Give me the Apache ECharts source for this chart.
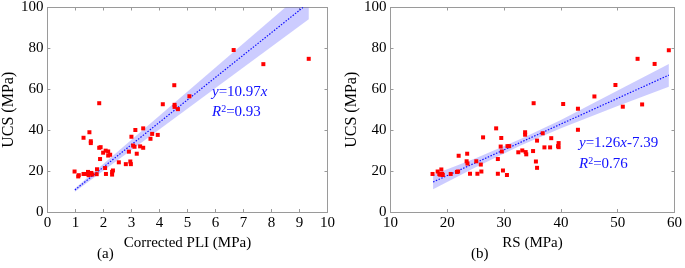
<!DOCTYPE html>
<html>
<head>
<meta charset="utf-8">
<script src="https://cdn.jsdelivr.net/npm/echarts@6/dist/echarts.min.js"></script>
<style>
  html, body { margin: 0; padding: 0; background: #fff; }
  #chart { width: 685px; height: 268px; }
</style>
</head>
<body>
<div id="chart"></div>
<script>
// (a) corrected PLI vs UCS
const pliX = [0.97, 1.12, 1.10, 1.29, 1.35, 1.45, 1.47, 1.57, 1.60, 1.76, 1.77, 1.29, 1.50, 1.55, 1.55,
  1.85, 1.85, 1.90, 1.88, 1.99, 2.08, 2.17, 2.24, 2.17, 2.06, 2.09, 2.31, 2.31, 2.34, 2.55, 2.80, 2.96,
  2.98, 2.91, 3.00, 3.06, 3.11, 3.19, 3.14, 3.31, 3.42, 3.42, 3.68, 3.74, 3.94, 4.12, 4.53, 4.54, 4.54,
  4.66, 5.07, 6.65, 7.71, 9.33]
const pliUcs = [19.8, 18.0, 17.4, 18.6, 18.6, 19.6, 18.0, 19.1, 18.3, 18.5, 20.9, 36.3, 39.0, 34.6, 33.7,
  53.2, 31.4, 31.7, 25.9, 29.0, 30.0, 29.6, 28.0, 27.6, 21.5, 18.6, 19.6, 18.3, 20.3, 24.3, 23.4, 24.7,
  23.4, 29.5, 36.8, 32.5, 31.9, 28.5, 40.1, 32.1, 31.4, 40.9, 35.8, 38.2, 37.7, 52.7, 62.0, 52.4, 51.4,
  50.3, 56.6, 79.2, 72.3, 74.9]
const pliFitX = [0.98, 9.12]
const pliFitY = [10.75, 100]
const pliBandX = [0.98, 9.33]
const pliBandLow = [9.9, 94.3]
const pliBandHigh = [11.5, 109.9]

// (b) RS vs UCS
const rsX = [17.4, 18.3, 18.95, 18.6, 18.9, 19.1, 19.2, 18.7, 20.6, 21.7, 21.9, 22.0, 23.5, 23.4, 23.55,
  24.0, 25.1, 25.3, 25.9, 26.0, 26.3, 28.6, 28.9, 28.9, 29.4, 29.5, 29.6, 29.8, 30.5, 30.6, 30.9, 32.5,
  33.2, 33.7, 33.7, 33.8, 33.9, 35.1, 35.2, 35.6, 35.8, 35.8, 36.8, 37.1, 38.1, 38.3, 39.5, 39.6, 39.6,
  40.4, 43.0, 43.0, 45.9, 49.6, 50.9, 53.5, 54.3, 56.5, 59.0]
const rsUcs = [18.6, 19.8, 20.8, 18.6, 18.4, 18.6, 18.1, 18.3, 18.6, 19.6, 19.8, 27.5, 28.5, 24.8, 23.7,
  18.7, 24.8, 18.7, 23.2, 19.8, 36.5, 40.9, 25.9, 18.7, 32.0, 36.2, 29.6, 20.3, 18.1, 32.2, 32.2, 29.2,
  30.1, 39.0, 37.8, 29.3, 28.2, 29.8, 53.2, 24.7, 21.6, 34.9, 38.5, 31.6, 31.6, 36.1, 32.2, 33.7, 31.7,
  52.8, 50.5, 40.2, 56.5, 62.1, 51.5, 74.9, 52.6, 72.4, 79.1]
const rsFitX = [17.5, 59]
const rsFitY = [14.66, 66.95]
const rsBandX = [17.5, 25, 33, 40, 50, 59]
const rsBandLow = [11.1, 21.9, 32.6, 41.0, 51.8, 61.3]
const rsBandHigh = [18.2, 26.3, 35.8, 45.0, 59.4, 72.4]

const FONT = 'Liberation Serif'
const AXIS_COLOR = '#9a9a9a'
const BLUE = '#1010ff'

const pairs = (xs, ys) => xs.map((x, i) => [x, ys[i]])

const makeX = (grid, min, max, interval, name, top) => ({
  gridIndex: grid,
  type: 'value',
  min, max, interval,
  position: top ? 'top' : 'bottom',
  name: top ? '' : name,
  nameLocation: 'middle',
  nameGap: 24,
  nameTextStyle: { fontFamily: FONT, fontSize: 15, color: '#000' },
  axisLine: { show: true, onZero: false, lineStyle: { color: AXIS_COLOR, width: 1 } },
  axisTick: { show: true, inside: true, length: 3, lineStyle: { color: AXIS_COLOR } },
  axisLabel: { show: !top, margin: 4, fontFamily: FONT, fontSize: 15, color: '#000' },
  splitLine: { show: false }
})

const makeY = (grid, right) => ({
  gridIndex: grid,
  type: 'value',
  min: 0, max: 100, interval: 20,
  position: right ? 'right' : 'left',
  name: right ? '' : 'UCS (MPa)',
  nameLocation: 'middle',
  nameGap: 27,
  nameTextStyle: { fontFamily: FONT, fontSize: 16, color: '#000' },
  axisLine: { show: true, onZero: false, lineStyle: { color: AXIS_COLOR, width: 1 } },
  axisTick: { show: true, inside: true, length: 3, lineStyle: { color: AXIS_COLOR } },
  axisLabel: { show: !right, margin: 4, fontFamily: FONT, fontSize: 15, color: '#000' },
  splitLine: { show: false }
})

// confidence band as one polygon: upper edge left->right, lower edge right->left
const bandSeries = (axis, xs, low, high) => ({
  type: 'custom', xAxisIndex: axis, yAxisIndex: axis,
  data: [[xs[0], low[0]]], silent: true, z: 1,
  renderItem: (params, api) => {
    const upper = xs.map((x, i) => api.coord([x, high[i]]))
    const lower = xs.map((x, i) => api.coord([x, low[i]])).reverse()
    const cs = params.coordSys
    return {
      type: 'polygon',
      shape: { points: upper.concat(lower) },
      style: { fill: 'rgba(40, 40, 255, 0.24)' },
      clipPath: { type: 'rect', shape: { x: cs.x, y: cs.y, width: cs.width, height: cs.height } }
    }
  }
})

const fitSeries = (axis, xs, ys) => ({
  type: 'line', xAxisIndex: axis, yAxisIndex: axis,
  data: pairs(xs, ys), symbol: 'none', silent: true, z: 3,
  lineStyle: { color: BLUE, width: 1.2, type: [1.5, 1.5] }
})

const pointSeries = (axis, xs, ys) => ({
  type: 'scatter', xAxisIndex: axis, yAxisIndex: axis,
  data: pairs(xs, ys), symbol: 'rect', symbolSize: 4,
  itemStyle: { color: '#ff0000', opacity: 1 }, z: 5
})

const rich = {
  i: { fontFamily: FONT, fontSize: 15, fontStyle: 'italic', color: BLUE },
  n: { fontFamily: FONT, fontSize: 15, color: BLUE },
  s: { fontFamily: FONT, fontSize: 10, color: BLUE, padding: [0, 0, 7, 0] }
}

const label = (x, y, text) => ({
  type: 'text', left: x, top: y,
  style: { text, rich, fill: BLUE, font: '15px ' + FONT }
})

const caption = (x, y, text) => ({
  type: 'text', left: x, top: y,
  style: { text, fill: '#000', font: '15px ' + FONT }
})

const chart = echarts.init(document.getElementById('chart'), null, { renderer: 'canvas' })

chart.setOption({
  animation: false,
  grid: [
    { left: 41, top: 5.5, width: 286.5, height: 206.5 },
    { left: 390.5, top: 5.5, width: 286.8, height: 206.5 }
  ],
  xAxis: [
    makeX(0, 0, 10, 1, 'Corrected PLI (MPa)', false),
    makeX(0, 0, 10, 1, '', true),
    makeX(1, 10, 60, 10, 'RS (MPa)', false),
    makeX(1, 10, 60, 10, '', true)
  ],
  yAxis: [makeY(0, false), makeY(0, true), makeY(1, false), makeY(1, true)],
  series: [
    bandSeries(0, pliBandX, pliBandLow, pliBandHigh),
    fitSeries(0, pliFitX, pliFitY),
    pointSeries(0, pliX, pliUcs),
    bandSeries(2, rsBandX, rsBandLow, rsBandHigh),
    fitSeries(2, rsFitX, rsFitY),
    pointSeries(2, rsX, rsUcs)
  ],
  graphic: [
    label(212, 85, '{i|y}{n|=10.97}{i|x}'),
    label(212, 104, '{i|R}{s|2}{n|=0.93}'),
    label(579, 136, '{i|y}{n|=1.26}{i|x}{n|-7.39}'),
    label(579, 156, '{i|R}{s|2}{n|=0.76}'),
    caption(97, 247, '(a)'),
    caption(471, 247, '(b)')
  ]
})
</script>
</body>
</html>
